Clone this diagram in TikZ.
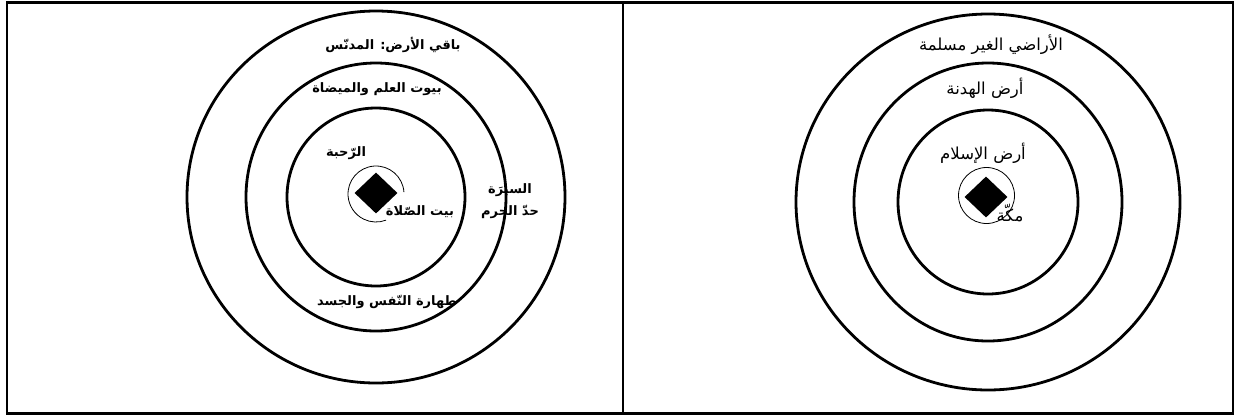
\documentclass[tikz,border=0pt]{standalone}
\usepackage{fontspec}
\usetikzlibrary{shapes.geometric}
\newfontfamily\arabicfont[Script=Arabic]{DejaVu Sans}
\TeXXeTstate=1
\newcommand{\artxt}[1]{\beginR #1\endR}

\begin{document}
\begin{tikzpicture}[x=1pt,y=-1pt,
  ring/.style={line width=2.8pt},
  hole/.style={line width=0.8pt},
  kaaba/.style={diamond,fill=black,inner sep=0pt,
    minimum width=43pt,minimum height=41pt},
  lbl/.style={inner sep=1pt,align=center,
    font=\arabicfont\bfseries\fontsize{13}{22}\selectfont},
  lblr/.style={inner sep=1pt,align=center,
    font=\arabicfont\fontsize{16.5}{20}\selectfont},
  frame/.style={line width=1.2pt}]
\useasboundingbox (0,0) rectangle (1239,416);
% table frame
\draw[frame,line width=3pt] (6,2.5) -- (1234,2.5);
\draw[frame,line width=3pt] (6,413) -- (1234,413);
\draw[frame] (7,2) -- (7,414);
\draw[frame] (623,2) -- (623,414);
\draw[frame] (1233,2) -- (1233,414);

% left: the mosque
\coordinate (lc) at (376,197);
\draw[ring] (lc) ellipse[x radius=89pt,y radius=89pt];
\draw[ring] (lc) ellipse[x radius=130pt,y radius=134pt];
\draw[ring] (lc) ellipse[x radius=189pt,y radius=186pt];
\node[kaaba] (lk) at (376,193) {};
\draw[hole] (376,194) ++(4:28pt) arc[start angle=4,end angle=291,radius=28pt];
\node[lbl] (outer) at (393,45) {\artxt{باقي الأرض: المدنّس}};
\node[lbl] (ilm) at (377,89) {\artxt{بيوت العلم والميضاة}};
\node[lbl] (rahba) at (346,153) {\artxt{الرّحبة}};
\node[lbl] (salat) at (420,212) {\artxt{بيت الصّلاة}};
\node[lbl] (sira) at (510,201) {\artxt{السيرَة}\\\artxt{حدّ الحرم}};
\node[lbl] (tahara) at (387,302) {\artxt{طهارة النّفس والجسد}};

% right: the lands
\coordinate (rc) at (988,202);
\draw[ring] (rc) ellipse[x radius=90pt,y radius=92pt];
\draw[ring] (rc) ellipse[x radius=134pt,y radius=139pt];
\draw[ring] (rc) ellipse[x radius=192pt,y radius=188pt];
\node[kaaba] (rk) at (986,197) {};
\draw[hole] (986.5,195.5) circle[radius=28pt];
\node[lblr] (kufr) at (991,45) {\artxt{الأراضي الغير مسلمة}};
\node[lblr] (hudna) at (985,88) {\artxt{أرض الهدنة}};
\node[lblr] (islam) at (983,153) {\artxt{أرض الإسلام}};
\node[lblr] (makka) at (1010,213) {\artxt{مكّة}};
\end{tikzpicture}
\end{document}
